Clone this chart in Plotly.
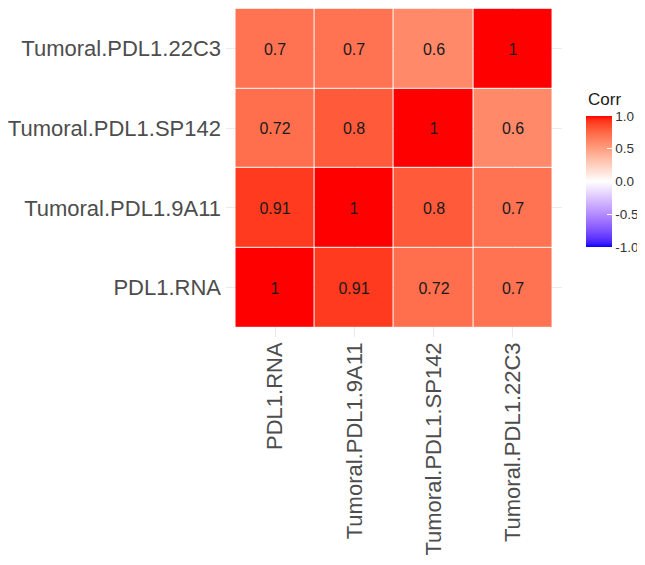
import plotly.graph_objects as go

# ---- data ----
variables = ["PDL1.RNA", "Tumoral.PDL1.9A11", "Tumoral.PDL1.SP142", "Tumoral.PDL1.22C3"]
row_pdl1_rna = [1.0, 0.91, 0.72, 0.7]
row_9a11 = [0.91, 1.0, 0.8, 0.7]
row_sp142 = [0.72, 0.8, 1.0, 0.6]
row_22c3 = [0.7, 0.7, 0.6, 1.0]
corr = [row_pdl1_rna, row_9a11, row_sp142, row_22c3]
legend_ticks = [-1.0, -0.5, 0.0, 0.5, 1.0]

# ---- Lab interpolation (like ggplot2 scale_fill_gradient2) ----
def srgb_to_lin(c):
    c = c / 255.0
    return c / 12.92 if c <= 0.04045 else ((c + 0.055) / 1.055) ** 2.4

def lin_to_srgb(c):
    c = max(0.0, min(1.0, c))
    v = 12.92 * c if c <= 0.0031308 else 1.055 * c ** (1 / 2.4) - 0.055
    return int(round(max(0, min(1, v)) * 255))

WX, WY, WZ = 0.95047, 1.0, 1.08883

def rgb_to_lab(rgb):
    r, g, b = [srgb_to_lin(c) for c in rgb]
    X = 0.4124 * r + 0.3576 * g + 0.1805 * b
    Y = 0.2126 * r + 0.7152 * g + 0.0722 * b
    Z = 0.0193 * r + 0.1192 * g + 0.9505 * b
    def f(t):
        return t ** (1 / 3) if t > 0.008856 else 7.787 * t + 16 / 116
    fx, fy, fz = f(X / WX), f(Y / WY), f(Z / WZ)
    return (116 * fy - 16, 500 * (fx - fy), 200 * (fy - fz))

def lab_to_rgb(lab):
    L, a, b = lab
    fy = (L + 16) / 116
    fx = fy + a / 500
    fz = fy - b / 200
    def finv(t):
        return t ** 3 if t ** 3 > 0.008856 else (t - 16 / 116) / 7.787
    X, Y, Z = WX * finv(fx), WY * finv(fy), WZ * finv(fz)
    r = 3.2406 * X - 1.5372 * Y - 0.4986 * Z
    g = -0.9689 * X + 1.8758 * Y + 0.0415 * Z
    bb = 0.0557 * X - 0.2040 * Y + 1.0570 * Z
    return "rgb(%d,%d,%d)" % (lin_to_srgb(r), lin_to_srgb(g), lin_to_srgb(bb))

blue = rgb_to_lab((0, 0, 255))
white = rgb_to_lab((255, 255, 255))
red = rgb_to_lab((255, 0, 0))
colorscale = []
N = 40
for i in range(N + 1):
    p = i / N
    if p <= 0.5:
        t = p / 0.5
        lab = tuple(blue[k] + (white[k] - blue[k]) * t for k in range(3))
    else:
        t = (p - 0.5) / 0.5
        lab = tuple(white[k] + (red[k] - white[k]) * t for k in range(3))
    colorscale.append([p, lab_to_rgb(lab)])

text = [[f"{v:g}" for v in row] for row in corr]

# The page body has an 8px margin, so the figure is laid out in a 637x557 box
W, H = 637, 557
ML, MR, MT, MB = 217.5, 82.5, 0, 227.5
PW, PH = W - ML - MR, H - MT - MB

FONT = "Liberation Sans, Arial, sans-serif"

fig = go.Figure(
    go.Heatmap(
        z=corr,
        x=variables,
        y=variables,
        text=text,
        texttemplate="%{text}",
        textfont=dict(family=FONT, size=16, color="#1a1a1a"),
        colorscale=colorscale,
        zmin=-1,
        zmax=1,
        xgap=1,
        ygap=1,
        colorbar=dict(
            xref="container", yref="paper",
            x=578 / W, xanchor="left", xpad=0,
            y=(PH - 108) / PH, yanchor="top", ypad=0,
            thickness=26, thicknessmode="pixels",
            len=131, lenmode="pixels",
            outlinewidth=0,
            tickvals=legend_ticks,
            ticktext=[f"{v:.1f}" for v in legend_ticks],
            ticks="inside", ticklen=5, tickcolor="white",
            tickfont=dict(family=FONT, size=13.5, color="#333333"),
        ),
    )
)

axis_font = dict(family=FONT, size=22, color="#4D4D4D")
fig.update_layout(
    width=W,
    height=H,
    margin=dict(l=ML, r=MR, t=MT, b=MB, autoexpand=False),
    paper_bgcolor="white",
    plot_bgcolor="white",
    xaxis=dict(
        range=[-0.62, 3.62], showgrid=True, gridcolor="#EBEBEB", gridwidth=1,
        zeroline=False, showline=False, tickangle=-90, tickfont=axis_font,
        ticks="", automargin=False, fixedrange=True,
    ),
    yaxis=dict(
        range=[-0.62, 3.51], showgrid=True, gridcolor="#EBEBEB", gridwidth=1,
        zeroline=False, showline=False, tickfont=axis_font,
        ticks="", automargin=False, fixedrange=True, ticklabelstandoff=4,
    ),
    annotations=[
        dict(
            text="Corr", xref="paper", yref="paper",
            x=(579 - ML) / PW, y=(PH - 92) / PH,
            xanchor="left", yanchor="middle", showarrow=False,
            font=dict(family=FONT, size=17, color="#1a1a1a"),
        )
    ],
)

fig.write_html("out.html")
